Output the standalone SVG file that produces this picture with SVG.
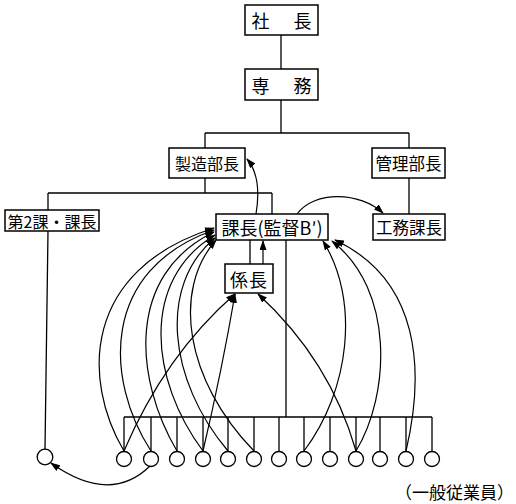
<svg xmlns="http://www.w3.org/2000/svg" width="516" height="504" viewBox="0 0 516 504">
<style>
.box{fill:#fff;stroke:#000;stroke-width:1.5}
.t{font-family:"Noto Sans CJK JP","Noto Sans",sans-serif;fill:#000;text-anchor:middle;dominant-baseline:central}
.ln{fill:none;stroke:#000;stroke-width:1.3}
.ar{fill:none;stroke:#000;stroke-width:1.2;marker-end:url(#ah)}
.emp{fill:#fff;stroke:#000;stroke-width:1.3}
</style>
<defs>
<marker id="ah" markerUnits="userSpaceOnUse" markerWidth="10" markerHeight="7" refX="9" refY="3.5" orient="auto">
<path d="M0,0 L10,3.5 L0,7 z" fill="#000"/>
</marker>
</defs>
<rect width="516" height="504" fill="#fff"/>
<g id="connectors">
<path class="ln" d="M281,35V69M281,100V133M205,133H409M205,133V148M409,133V148M205,178V193M48,193H272M48,193V210M272,193V214M409,178V214M48,231L45,449M250,240V264M286,240V417M124,417H432"/>
<path class="ln" d="M124,417V451.5M151,417V451.5M177,417V451.5M203,417V451.5M228,417V451.5M254,417V451.5M279,417V451.5M304,417V451.5M330,417V451.5M356,417V451.5M380,417V451.5M406,417V451.5M432,417V451.5"/>
<path class="ar" d="M263,264V241"/>
<path class="ar" d="M256,214C260,190 258,172 247,159"/>
<path class="ar" d="M297,214C315,190 360,192 383,213"/>
<path class="ar" d="M124,451C82,380 82,270 214,228"/>
<path class="ar" d="M151,451C105,380 100,270 214,230"/>
<path class="ar" d="M177,451C135,380 125,275 214,232"/>
<path class="ar" d="M203,451C150,380 140,280 215,235"/>
<path class="ar" d="M228,451C168,380 158,285 215,238"/>
<path class="ar" d="M254,451C185,380 172,290 216,240"/>
<path class="ar" d="M124,451Q165,355 235,294"/>
<path class="ar" d="M203,451Q222,370 235,294"/>
<path class="ar" d="M356,451Q330,360 258,294"/>
<path class="ar" d="M304,451C350,390 360,300 323,241"/>
<path class="ar" d="M356,451C390,395 395,290 332,241"/>
<path class="ar" d="M406,451C425,370 420,280 335,240"/>
<path class="ar" d="M150,466Q110,505 51,463"/>
</g>
<g id="n-shacho"><rect class="box" x="245" y="5" width="73" height="30"/><text class="t" x="283" y="20" font-size="18" letter-spacing="3">社　長</text></g>
<g id="n-senmu"><rect class="box" x="245" y="69" width="73" height="31"/><text class="t" x="283" y="84.5" font-size="18" letter-spacing="3">専　務</text></g>
<g id="n-seizo"><rect class="box" x="169" y="148" width="76" height="30"/><text class="t" x="207" y="163" font-size="16">製造部長</text></g>
<g id="n-kanri"><rect class="box" x="372" y="148" width="73" height="30"/><text class="t" x="408.5" y="163" font-size="16.5">管理部長</text></g>
<g id="n-dai2"><rect class="box" x="5" y="210" width="94" height="21"/><text class="t" x="52" y="220.5" font-size="16">第2課・課長</text></g>
<g id="n-kacho"><rect class="box" x="216" y="214" width="112" height="26"/><text class="t" x="272" y="227" font-size="18">課長(監督B′)</text></g>
<g id="n-komu"><rect class="box" x="373" y="214" width="72" height="26"/><text class="t" x="409" y="227" font-size="16.5">工務課長</text></g>
<g id="n-kakari"><rect class="box" x="225" y="264" width="48" height="29"/><text class="t" x="249" y="278.5" font-size="18" letter-spacing="1">係長</text></g>
<g id="e0"><circle class="emp" cx="45" cy="457" r="7.8"/></g>
<g id="e1"><circle class="emp" cx="124" cy="459" r="7.5"/></g>
<g id="e2"><circle class="emp" cx="151" cy="459" r="7.5"/></g>
<g id="e3"><circle class="emp" cx="177" cy="459" r="7.5"/></g>
<g id="e4"><circle class="emp" cx="203" cy="459" r="7.5"/></g>
<g id="e5"><circle class="emp" cx="228" cy="459" r="7.5"/></g>
<g id="e6"><circle class="emp" cx="254" cy="459" r="7.5"/></g>
<g id="e7"><circle class="emp" cx="279" cy="459" r="7.5"/></g>
<g id="e8"><circle class="emp" cx="304" cy="459" r="7.5"/></g>
<g id="e9"><circle class="emp" cx="330" cy="459" r="7.5"/></g>
<g id="e10"><circle class="emp" cx="356" cy="459" r="7.5"/></g>
<g id="e11"><circle class="emp" cx="380" cy="459" r="7.5"/></g>
<g id="e12"><circle class="emp" cx="406" cy="459" r="7.5"/></g>
<g id="e13"><circle class="emp" cx="432" cy="459" r="7.5"/></g>
<g id="label"><text class="t" x="514" y="491" font-size="17" style="text-anchor:end">（一般従業員）</text></g>
</svg>
